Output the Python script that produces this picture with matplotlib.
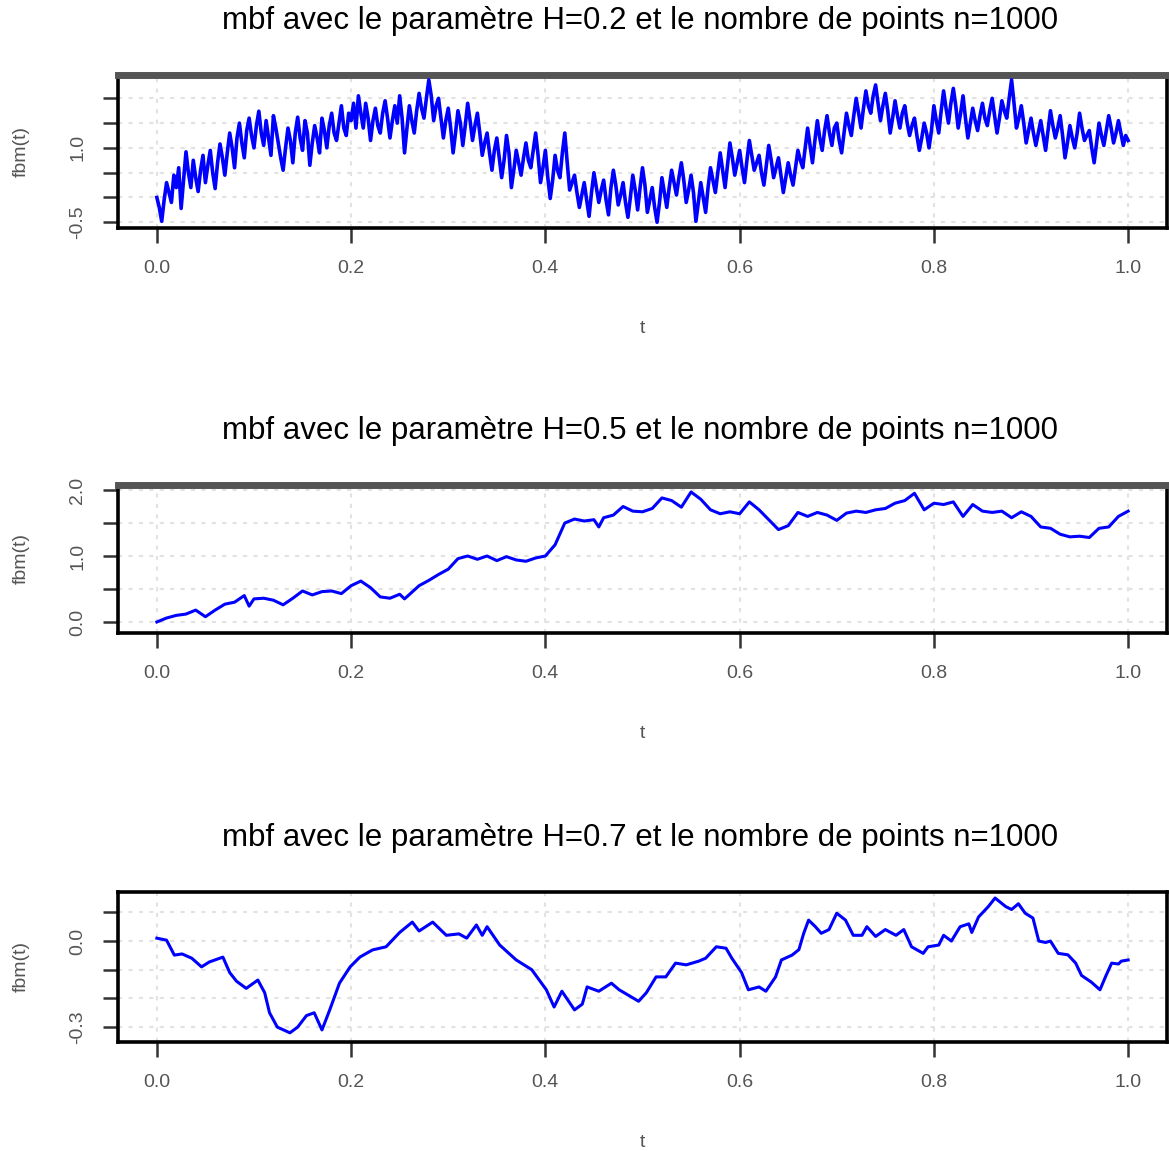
import numpy as np
import matplotlib
matplotlib.use("Agg")
import matplotlib.pyplot as plt

plt.rcParams["font.family"] = ["Liberation Sans", "DejaVu Sans"]

BLUE = "#0000ff"
GRID_COL = "#e2e2e2"
TEXT_COL = "#555555"
TICK_COL = "#333333"

# ---- data ----
# H = 0.2 (very rough path), uniform grid on [0, 1], 20 values per 0.05 of t
fbm_h02 = [
    0.00, -0.20, -0.48, -0.05, 0.30, 0.10, -0.10, 0.45, 0.20, 0.60,
    -0.22, 0.35, 0.92, 0.50, 0.20, 0.75, 0.40, 0.12, 0.55, 0.85,
    0.30, 0.65, 0.95, 0.50, 0.18, 0.70, 1.08, 0.80, 0.45, 0.90,
    1.30, 1.00, 0.60, 1.20, 1.50, 1.10, 0.80, 1.35, 1.60, 1.25,
    1.00, 1.45, 1.74, 1.30, 1.05, 1.55, 1.20, 0.85, 1.65, 1.40,
    1.10, 0.80, 0.55, 1.00, 1.40, 1.15, 0.70, 1.30, 1.62, 1.20,
    0.95, 1.55, 1.30, 0.65, 1.10, 1.45, 1.20, 0.90, 1.60, 1.35,
    1.00, 1.45, 1.70, 1.30, 1.15, 1.50, 1.85, 1.40, 1.25, 1.70,
    1.55, 1.90, 1.40, 2.05, 1.70, 1.40, 1.90, 1.60, 1.15, 1.55,
    1.80, 1.45, 1.30, 1.70, 1.95, 1.60, 1.20, 1.55, 1.85, 1.50,
    2.05, 1.60, 0.90, 1.40, 1.85, 1.55, 1.30, 1.75, 2.10, 1.80,
    1.60, 2.00, 2.37, 2.05, 1.55, 1.85, 2.00, 1.60, 1.20, 1.55,
    1.80, 1.40, 0.90, 1.30, 1.75, 1.50, 1.05, 1.45, 1.90, 1.55,
    1.15, 1.45, 1.70, 1.30, 0.85, 1.10, 1.30, 0.90, 0.55, 0.95,
    1.20, 0.80, 0.40, 0.75, 1.25, 0.90, 0.20, 0.55, 0.95, 0.70,
    0.45, 0.80, 1.10, 0.75, 0.60, 0.95, 1.30, 0.85, 0.30, 0.60,
    0.95, 0.40, -0.02, 0.35, 0.85, 0.55, 0.40, 0.90, 1.30, 0.70,
    0.15, 0.30, 0.45, 0.10, -0.20, 0.05, 0.30, -0.05, -0.38, 0.10,
    0.50, 0.20, -0.10, 0.15, 0.35, -0.05, -0.35, 0.20, 0.55, 0.25,
    -0.15, 0.05, 0.30, -0.10, -0.40, 0.00, 0.45, 0.15, -0.25, 0.20,
    0.60, 0.25, -0.30, -0.05, 0.20, -0.20, -0.50, -0.10, 0.40, 0.10,
    -0.20, 0.20, 0.55, 0.30, 0.05, 0.40, 0.70, 0.35, -0.10, 0.15,
    0.45, 0.10, -0.48, -0.10, 0.30, 0.00, -0.30, 0.20, 0.60, 0.35,
    0.10, 0.50, 0.90, 0.55, 0.20, 0.65, 1.10, 0.80, 0.45, 0.70,
    0.95, 0.60, 0.30, 0.75, 1.15, 0.85, 0.55, 0.70, 0.85, 0.50,
    0.25, 0.65, 1.05, 0.75, 0.40, 0.60, 0.80, 0.45, 0.10, 0.40,
    0.70, 0.45, 0.25, 0.60, 0.95, 0.75, 0.60, 1.00, 1.40, 1.05,
    0.70, 1.15, 1.55, 1.20, 0.95, 1.35, 1.65, 1.30, 1.05, 1.40,
    1.50, 1.15, 0.90, 1.30, 1.70, 1.45, 1.25, 1.65, 2.00, 1.70,
    1.40, 1.80, 2.15, 1.85, 1.70, 2.05, 2.27, 1.90, 1.55, 1.85,
    2.10, 1.75, 1.30, 1.60, 1.95, 1.65, 1.40, 1.70, 1.85, 1.50,
    1.25, 1.45, 1.60, 1.25, 0.95, 1.20, 1.50, 1.30, 1.00, 1.35,
    1.85, 1.55, 1.30, 1.75, 2.15, 1.80, 1.50, 1.90, 2.20, 1.85,
    1.40, 1.70, 2.05, 1.60, 1.20, 1.50, 1.80, 1.55, 1.35, 1.65,
    1.90, 1.60, 1.45, 1.75, 2.00, 1.65, 1.30, 1.60, 1.95, 1.75,
    1.60, 2.00, 2.37, 1.90, 1.40, 1.60, 1.85, 1.50, 1.10, 1.35,
    1.60, 1.30, 1.05, 1.30, 1.55, 1.25, 0.95, 1.35, 1.75, 1.45,
    1.20, 1.40, 1.65, 1.25, 0.80, 1.10, 1.45, 1.20, 1.00, 1.30,
    1.70, 1.40, 1.15, 1.25, 1.35, 1.00, 0.70, 1.10, 1.50, 1.25,
    1.05, 1.35, 1.65, 1.40, 1.10, 1.30, 1.55, 1.30, 1.05, 1.25,
    1.15,
]
t_h02 = np.linspace(0, 1, len(fbm_h02))

# H = 0.5
t_h05 = [
    0.000, 0.010, 0.020, 0.030, 0.040, 0.050, 0.060, 0.070, 0.080, 0.090,
    0.095, 0.100, 0.110, 0.120, 0.130, 0.140, 0.150, 0.160, 0.170, 0.180,
    0.190, 0.200, 0.210, 0.220, 0.230, 0.240, 0.250, 0.255, 0.270, 0.280,
    0.290, 0.300, 0.310, 0.320, 0.330, 0.340, 0.350, 0.360, 0.370, 0.380,
    0.390, 0.400, 0.410, 0.420, 0.430, 0.440, 0.450, 0.455, 0.460, 0.470,
    0.480, 0.490, 0.500, 0.510, 0.520, 0.530, 0.540, 0.550, 0.560, 0.570,
    0.580, 0.590, 0.600, 0.610, 0.620, 0.630, 0.640, 0.650, 0.660, 0.670,
    0.680, 0.690, 0.700, 0.710, 0.720, 0.730, 0.740, 0.750, 0.760, 0.770,
    0.780, 0.790, 0.800, 0.810, 0.820, 0.830, 0.840, 0.850, 0.860, 0.870,
    0.880, 0.890, 0.900, 0.910, 0.920, 0.930, 0.940, 0.950, 0.960, 0.970,
    0.980, 0.990, 1.000,
]
fbm_h05 = [
    0.00, 0.06, 0.10, 0.12, 0.18, 0.08, 0.18, 0.27, 0.30, 0.40,
    0.24, 0.35, 0.36, 0.33, 0.26, 0.36, 0.47, 0.41, 0.46, 0.47,
    0.43, 0.55, 0.62, 0.52, 0.38, 0.36, 0.42, 0.35, 0.55, 0.63,
    0.72, 0.80, 0.96, 1.00, 0.95, 1.00, 0.93, 0.99, 0.94, 0.92,
    0.97, 1.00, 1.17, 1.50, 1.56, 1.53, 1.55, 1.44, 1.58, 1.62,
    1.75, 1.68, 1.67, 1.72, 1.88, 1.84, 1.74, 1.97, 1.86, 1.70,
    1.64, 1.67, 1.64, 1.82, 1.70, 1.55, 1.40, 1.46, 1.66, 1.60,
    1.66, 1.62, 1.54, 1.65, 1.68, 1.66, 1.70, 1.72, 1.80, 1.84,
    1.95, 1.70, 1.80, 1.78, 1.82, 1.60, 1.78, 1.68, 1.66, 1.68,
    1.58, 1.67, 1.60, 1.44, 1.42, 1.33, 1.29, 1.30, 1.28, 1.42,
    1.44, 1.60, 1.68,
]

# H = 0.7
t_h07 = [
    0.000, 0.010, 0.018, 0.026, 0.036, 0.046, 0.054, 0.068, 0.075, 0.082,
    0.092, 0.104, 0.111, 0.116, 0.124, 0.137, 0.145, 0.154, 0.162, 0.170,
    0.178, 0.188, 0.199, 0.209, 0.222, 0.236, 0.250, 0.263, 0.270, 0.284,
    0.298, 0.311, 0.319, 0.329, 0.335, 0.340, 0.353, 0.370, 0.386, 0.401,
    0.409, 0.417, 0.430, 0.438, 0.443, 0.455, 0.468, 0.476, 0.486, 0.496,
    0.504, 0.514, 0.524, 0.534, 0.545, 0.558, 0.565, 0.576, 0.586, 0.592,
    0.602, 0.609, 0.620, 0.627, 0.637, 0.643, 0.654, 0.661, 0.666, 0.671,
    0.678, 0.684, 0.692, 0.700, 0.709, 0.717, 0.726, 0.731, 0.740, 0.750,
    0.761, 0.769, 0.777, 0.789, 0.794, 0.805, 0.810, 0.818, 0.827, 0.836,
    0.839, 0.846, 0.856, 0.863, 0.874, 0.880, 0.887, 0.894, 0.902, 0.908,
    0.915, 0.920, 0.928, 0.938, 0.946, 0.952, 0.962, 0.971, 0.977, 0.983,
    0.990, 0.993, 1.000,
]
fbm_h07 = [
    0.010, 0.003, -0.049, -0.045, -0.060, -0.090, -0.073, -0.056, -0.110, -0.140,
    -0.165, -0.136, -0.180, -0.250, -0.300, -0.320, -0.300, -0.260, -0.250, -0.310,
    -0.240, -0.147, -0.090, -0.056, -0.031, -0.020, 0.030, 0.066, 0.035, 0.066,
    0.020, 0.025, 0.010, 0.056, 0.020, 0.050, -0.014, -0.066, -0.100, -0.170,
    -0.230, -0.175, -0.240, -0.220, -0.160, -0.175, -0.147, -0.170, -0.190, -0.210,
    -0.180, -0.125, -0.125, -0.077, -0.083, -0.070, -0.060, -0.020, -0.025, -0.060,
    -0.110, -0.170, -0.160, -0.175, -0.125, -0.066, -0.049, -0.030, 0.027, 0.073,
    0.050, 0.027, 0.040, 0.097, 0.073, 0.020, 0.020, 0.050, 0.016, 0.040,
    0.020, 0.040, -0.020, -0.043, -0.020, -0.014, 0.020, 0.000, 0.050, 0.060,
    0.030, 0.084, 0.120, 0.150, 0.120, 0.110, 0.130, 0.097, 0.080, 0.000,
    -0.005, 0.000, -0.043, -0.048, -0.077, -0.120, -0.143, -0.170, -0.122, -0.077,
    -0.080, -0.070, -0.066,
]

X_TICKS = [0.0, 0.2, 0.4, 0.6, 0.8, 1.0]
X_LABELS = ["0.0", "0.2", "0.4", "0.6", "0.8", "1.0"]

panels = [
    dict(t=t_h02, y=fbm_h02, H="0.2", lw=2.6,
         yticks=[-0.5, 0.0, 0.5, 1.0, 1.5, 2.0],
         ylabels=["-0.5", "", "", "1.0", "", ""],
         ylim=(-0.615, 2.47), top_gray=True),
    dict(t=t_h05, y=fbm_h05, H="0.5", lw=2.2,
         yticks=[0.0, 0.5, 1.0, 1.5, 2.0],
         ylabels=["0.0", "", "1.0", "", "2.0"],
         ylim=(-0.167, 2.076), top_gray=True),
    dict(t=t_h07, y=fbm_h07, H="0.7", lw=2.2,
         yticks=[-0.3, -0.2, -0.1, 0.0, 0.1],
         ylabels=["-0.3", "", "", "0.0", ""],
         ylim=(-0.352, 0.171), top_gray=False),
]

W, H = 1169, 1151
# axes boxes in pixels: (top, bottom)
boxes = [(75, 228), (485, 633), (892, 1042)]
LEFT, RIGHT = 118, 1167


def _style_ax(ax, p):
    ax.set_xlim(-0.04, 1.04)
    ax.set_ylim(*p["ylim"])
    ax.set_xticks(X_TICKS)
    ax.set_xticklabels(X_LABELS)
    ax.set_yticks(p["yticks"])
    ax.set_yticklabels(p["ylabels"], rotation=90, va="center")
    for x in X_TICKS:
        ax.axvline(x, color=GRID_COL, lw=1.5, ls=(0, (2, 3)), zorder=0)
    for y in p["yticks"]:
        ax.axhline(y, color=GRID_COL, lw=1.5, ls=(0, (2, 3)), zorder=0)
    ax.tick_params(axis="both", length=11, width=1.8, color=TICK_COL,
                   labelcolor=TEXT_COL, labelsize=14)
    ax.tick_params(axis="x", pad=12)
    ax.tick_params(axis="y", pad=12)
    for sp in ax.spines.values():
        sp.set_linewidth(2.6)
        sp.set_color("black")
    if p["top_gray"]:
        ax.spines["top"].set_color("#555555")
        ax.spines["top"].set_linewidth(5)


fig = plt.figure(figsize=(W / 100, H / 100), dpi=100)

for p, (top, bot) in zip(panels, boxes):
    ax = fig.add_axes([LEFT / W, 1 - bot / H, (RIGHT - LEFT) / W, (bot - top) / H])
    ax.plot(p["t"], p["y"], color=BLUE, lw=p["lw"], zorder=3)
    _style_ax(ax, p)
    ax.set_xlabel("t", color=TEXT_COL, fontsize=14, labelpad=31)
    ax.set_ylabel("fbm(t)", color=TEXT_COL, fontsize=14, labelpad=28)
    fig.text(640 / W, 1 - (top - 54) / H,
             f"mbf avec le paramètre H={p['H']} et le nombre de points n=1000",
             ha="center", va="center", fontsize=22.5, color="black")

fig.savefig("out.png", dpi=100)
